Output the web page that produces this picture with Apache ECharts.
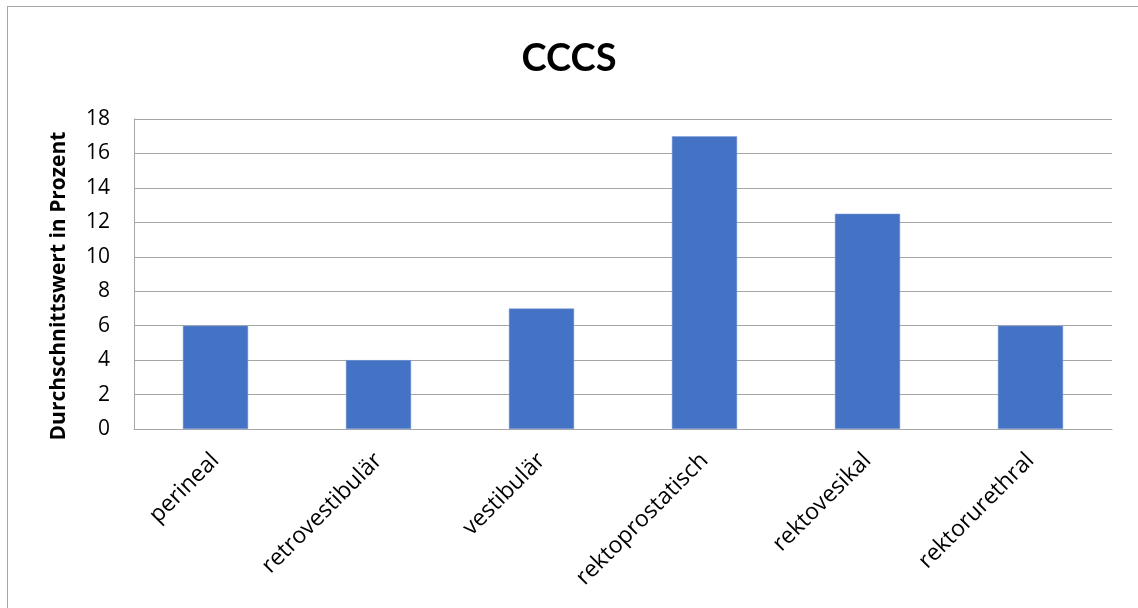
<!DOCTYPE html>
<html>
<head>
<meta charset="utf-8">
<script src="https://cdn.jsdelivr.net/npm/echarts@6/dist/echarts.min.js"></script>
<style>
  html, body { margin: 0; padding: 0; background: #fff; }
  #frame {
    position: absolute; left: 7px; top: 6px;
    width: 1200px; height: 700px;
    border: 1px solid #a6a6a6; box-sizing: border-box;
  }
  #main { position: absolute; left: 0; top: 0; width: 1138px; height: 608px; }
</style>
</head>
<body>
<div id="frame"></div>
<div id="main"></div>
<script>
// Daten
const categories = ['perineal', 'retrovestibulär', 'vestibulär', 'rektoprostatisch', 'rektovesikal', 'rektorurethral'];
const values = [6, 4, 7, 17, 12.5, 6];
const yTicks = [0, 2, 4, 6, 8, 10, 12, 14, 16, 18];
const yName = 'Durchschnittswert in Prozent';

const font = '"Open Sans", Lato, sans-serif';
const myChart = echarts.init(document.getElementById('main'));

const option = {
  animation: false,
  title: {
    text: 'CCCS',
    left: 'center',
    top: 35,
    textStyle: { fontFamily: 'Lato, sans-serif', fontSize: 38, fontWeight: 'bold', color: '#000' },
  },
  // Achsentitel, etwas unterhalb der Mitte wie im Original
  graphic: [
    {
      type: 'text',
      x: 59,
      y: 286,
      rotation: Math.PI / 2,
      style: {
        text: yName,
        fontFamily: font,
        fontSize: 21,
        fontWeight: 'bold',
        fill: '#000',
        align: 'center',
        verticalAlign: 'middle',
      },
    },
  ],
  grid: { left: 134, right: 26, top: 119, bottom: 179 },
  xAxis: {
    type: 'category',
    data: categories,
    axisLine: { lineStyle: { color: '#a6a6a6', width: 1 } },
    axisTick: { show: false },
    axisLabel: {
      rotate: 45,
      interval: 0,
      margin: 28,
      color: '#000',
      fontFamily: font,
      fontSize: 23,
    },
  },
  yAxis: {
    type: 'value',
    min: yTicks[0],
    max: yTicks[yTicks.length - 1],
    interval: 2,
    axisLine: { show: true, lineStyle: { color: '#a6a6a6' } },
    axisTick: { show: false },
    axisLabel: { color: '#000', fontFamily: font, fontSize: 21, margin: 24 },
    splitLine: { lineStyle: { color: '#a6a6a6', width: 1 } },
  },
  series: [
    {
      type: 'bar',
      data: values,
      barWidth: '40%',
      itemStyle: { color: '#4472c4', borderColor: '#7f9fd6', borderWidth: 0.5 },
    },
  ],
};

option && myChart.setOption(option);
</script>
</body>
</html>
